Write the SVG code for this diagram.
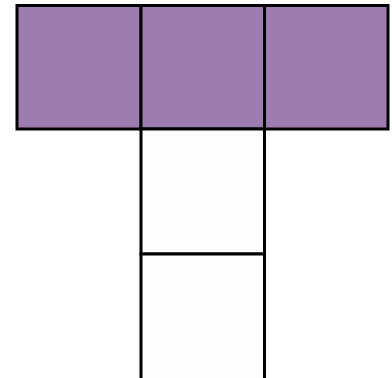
<svg xmlns="http://www.w3.org/2000/svg" width="392" height="378" viewBox="0 0 392 378">
<style>
.p{fill:#9d7cb0;stroke:#000;stroke-width:3}
.w{fill:#fdfdfd;stroke:#000;stroke-width:3}
</style>
<rect width="392" height="378" fill="#fff"/>
<g id="top-left"><rect class="p" x="17" y="5.5" width="124" height="123.5"/></g>
<g id="top-middle"><rect class="p" x="141" y="5.5" width="123.5" height="123.5"/></g>
<g id="top-right"><rect class="p" x="264.5" y="5.5" width="123.5" height="123.5"/></g>
<g id="middle"><rect class="w" x="141" y="129" width="123.5" height="125"/></g>
<g id="bottom"><rect class="w" x="141" y="254" width="123.5" height="125.5"/></g>
<g id="connectors"></g>
</svg>
